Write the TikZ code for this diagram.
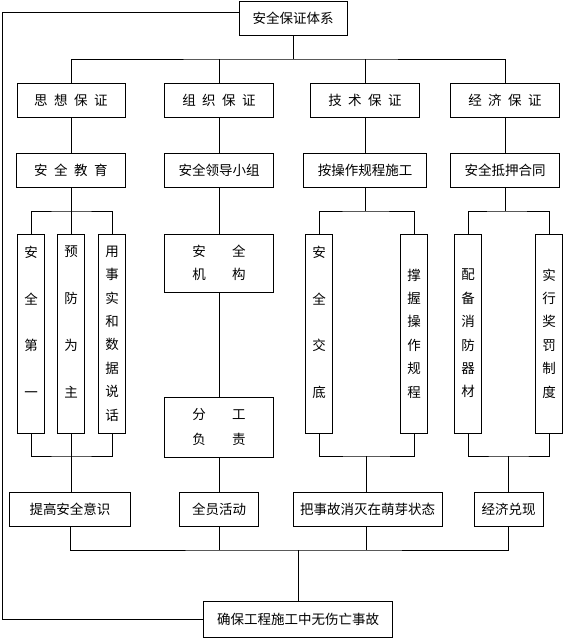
\documentclass[tikz,border=0pt]{standalone}
\usepackage{fontspec}
\setmainfont{Noto Sans CJK SC}
\usetikzlibrary{positioning}
\newcommand{\jg}{\hspace{6.5pt}}
\newcommand{\kuan}{\hspace{26.5pt}}

\begin{document}
\begin{tikzpicture}[x=1pt,y=-1pt,
  box/.style={draw,line width=0.8pt,inner sep=0pt,minimum height=34pt,font=\fontsize{13.5}{16}\selectfont},
  col/.style={box,minimum width=27pt,minimum height=199pt,align=center,font=\fontsize{13.5}{23.4}\selectfont},
  pair/.style={box,minimum width=109pt,align=center,font=\fontsize{13.5}{23.4}\selectfont},
  every path/.style={line width=0.8pt}]
\fill[white] (0,0) rectangle (563,638);
\useasboundingbox (0,0) rectangle (563,638);

\node[box,minimum width=108pt] (system) at (293,18) {安全保证体系};

\node[box,minimum width=108pt] (idea) at (71,100) {思\jg 想\jg 保\jg 证};
\node[box,minimum width=109pt] (org) at (219,100) {组\jg 织\jg 保\jg 证};
\node[box,minimum width=109pt] (tech) at (365,100) {技\jg 术\jg 保\jg 证};
\node[box,minimum width=109pt] (econ) at (505,100) {经\jg 济\jg 保\jg 证};

\node[box,minimum width=109pt] (edu) at (71,170) {安\jg 全\jg 教\jg 育};
\node[box,minimum width=109pt] (lead) at (219,170) {安全领导小组};
\node[box,minimum width=123pt] (rule) at (365,170) {按操作规程施工};
\node[box,minimum width=109pt] (contract) at (505,170) {安全抵押合同};

\node[col] (c1) at (31,333.5) {安\\~\\全\\~\\第\\~\\一\\~};
\node[col] (c2) at (71,333.5) {预\\~\\防\\~\\为\\~\\主\\~};
\node[col] (c3) at (112,333.5) {用\\事\\实\\和\\数\\据\\说\\话};
\node[pair,minimum height=58pt] (jigou) at (219,263) {安\kuan 全\\机\kuan 构};
\node[pair,minimum height=60pt,font=\fontsize{13.5}{24.5}\selectfont] (fengong) at (219,427) {分\kuan 工\\负\kuan 责};
\node[col] (c4) at (319,333.5) {安\\~\\全\\~\\交\\~\\底\\~};
\node[col] (c5) at (414,333.5) {撑\\握\\操\\作\\规\\程};
\node[col] (c6) at (468,333.5) {配\\备\\消\\防\\器\\材};
\node[col] (c7) at (549,333.5) {实\\行\\奖\\罚\\制\\度};

\node[box,minimum width=121pt] (raise) at (70,509) {提高安全意识};
\node[box,minimum width=79pt] (all) at (219,509) {全员活动};
\node[box,minimum width=149pt] (nip) at (367.5,509) {把事故消灭在萌芽状态};
\node[box,minimum width=69pt] (cash) at (508.5,509) {经济兑现};

\node[box,minimum width=189pt,minimum height=36pt] (goal) at (298,619) {确保工程施工中无伤亡事故};

\coordinate (bus1) at (293,59);
\coordinate (g1t) at (71,211);
\coordinate (g1b) at (71,456);
\coordinate (g3t) at (365,211);
\coordinate (g3b) at (366,456);
\coordinate (g4t) at (505,211);
\coordinate (g4b) at (508.5,456);
\coordinate (bus2) at (298,550);
\coordinate (corner) at (2,619);

\draw (system) -- (bus1);
\draw (idea) |- (bus1) -| (econ);
\draw (org) -- (org |- bus1);
\draw (tech) -- (tech |- bus1);

\draw (idea) -- (edu);
\draw (org) -- (lead);
\draw (tech) -- (rule);
\draw (econ) -- (contract);

\draw (edu) -- (g1t);
\draw (c1) |- (g1t) -| (c3);
\draw (c2) -- (g1t);
\draw (c1) |- (g1b) -| (c3);
\draw (c2) -- (g1b);
\draw (g1b) -- (g1b |- raise.north);

\draw (lead) -- (jigou);
\draw (jigou) -- (fengong);
\draw (fengong) -- (all);

\draw (rule) -- (g3t);
\draw (c4) |- (g3t) -| (c5);
\draw (c4) |- (g3b) -| (c5);
\draw (g3b) -- (g3b |- nip.north);

\draw (contract) -- (g4t);
\draw (c6) |- (g4t) -| (c7);
\draw (c6) |- (g4b) -| (c7);
\draw (g4b) -- (cash);

\draw (raise) |- (bus2) -| (cash);
\draw (all) -- (all |- bus2);
\draw (g3b |- nip.south) -- (g3b |- bus2);
\draw (bus2) -- (goal);

\draw ([yshift=6pt]system.west) -| (corner) -- (goal.west);
\end{tikzpicture}
\end{document}
